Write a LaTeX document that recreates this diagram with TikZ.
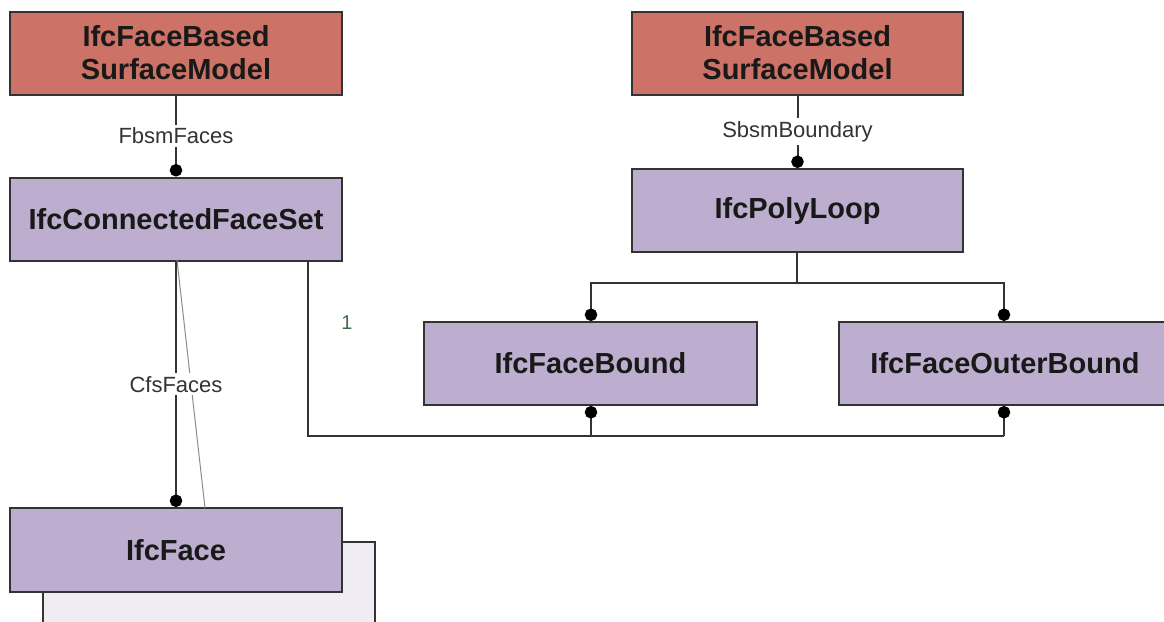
\documentclass[tikz,border=0pt]{standalone}
\usepackage{fontspec}
\setmainfont{Liberation Sans}
\usetikzlibrary{arrows.meta}
\definecolor{entred}{HTML}{CC7266}
\definecolor{entlav}{HTML}{BDAECF}
\definecolor{edgegray}{HTML}{333333}
\definecolor{shadowfill}{HTML}{EFEDF3}
\definecolor{cardgreen}{HTML}{3E6E4C}
\tikzset{
  entity/.style={draw=edgegray, line width=2pt, fill=entlav, inner sep=0pt,
    minimum width=332pt, minimum height=83pt, align=center, text=black!90,
    font=\fontsize{29}{33}\selectfont\bfseries},
  supertype/.style={entity, fill=entred},
  link/.style={draw=edgegray, line width=2pt},
  dotted end/.style={-{Circle[length=12.5pt,width=12.5pt,fill=black,black]}},
  rolelabel/.style={fill=white, inner sep=3pt, text=black!80,
    font=\fontsize{22}{26}\selectfont},
}
\begin{document}
\begin{tikzpicture}[x=1pt,y=-1pt]
\useasboundingbox (0,0) rectangle (1164,621);
\clip (0,0) rectangle (1164,621);

% stacked card behind IfcFace
\draw[edgegray, line width=2pt, fill=shadowfill] (43,660) -- (43,542) -- (375,542) -- (375,660);

% entities
\node[supertype] (fbsm1) at (176,53) {IfcFaceBased\\SurfaceModel};
\node[entity] (cfs) at (176,219) {IfcConnectedFaceSet};
\node[entity, minimum height=84pt] (face) at (176,550) {IfcFace};
\node[supertype, minimum width=331pt] (fbsm2) at (797.5,53) {IfcFaceBased\\SurfaceModel};
\node[entity, minimum width=331pt] (poly) at (797.5,210.5) {IfcPolyLoop};
\node[entity, minimum width=333pt] (fb) at (590.5,363.5) {IfcFaceBound};
\node[entity] (fob) at (1005,363.5) {IfcFaceOuterBound};

% junction points
\coordinate (split) at (797,283);
\coordinate (cfsdrop) at (308,260);
\coordinate (busL) at (308,436);
\coordinate (busR) at (1004,436);

% attribute links
\draw[link, dotted end] (fbsm1.south) -- node[rolelabel] {FbsmFaces} (cfs.north);
\draw[link, dotted end] (fbsm2.south -| poly.north) -- node[rolelabel] {SbsmBoundary} (poly.north);
\draw[black!45, line width=1pt] (177,260) -- (205,508);
\draw[link, dotted end] (cfs.south) -- node[rolelabel] {CfsFaces} (face.north);

% IfcPolyLoop to the two bounds
\draw[link] (poly.south -| split) -- (split);
\draw[link, dotted end] (split) -| (fb.north -| 591,0);
\draw[link, dotted end] (split) -| (fob.north -| 1004,0);

% IfcConnectedFaceSet to the bounds
\draw[link] (cfsdrop) -- (busL) -- (busR);
\draw[link, dotted end] (busL -| 591,0) -- (fb.south -| 591,0);
\draw[link, dotted end] (busR) -- (fob.south -| 1004,0);
\node[text=cardgreen, font=\fontsize{20}{24}\selectfont] (card) at (347,323) {1};
\end{tikzpicture}
\end{document}
